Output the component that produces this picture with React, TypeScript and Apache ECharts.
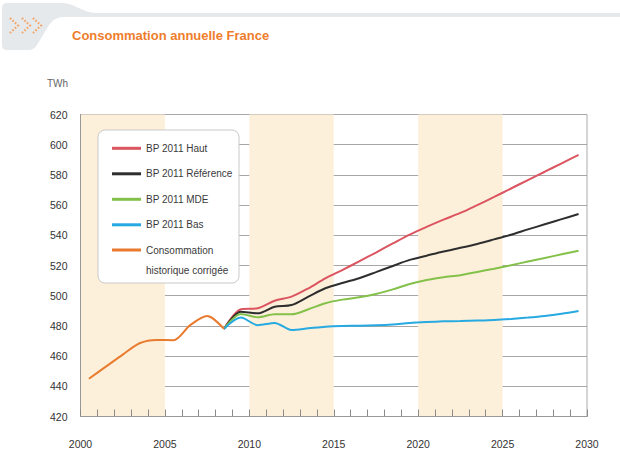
import React, { useEffect, useRef } from "react";
import * as echarts from "echarts";

const histYears = [2000, 2001, 2002, 2003, 2004, 2005, 2006, 2007, 2008];
const histValues = [445, 453, 461, 468.5, 470.7, 470.5, 480.5, 486.5, 478];

const projYears = [
  2008, 2009, 2010, 2011, 2012, 2013, 2014, 2015, 2016, 2017, 2018,
  2019, 2020, 2021, 2022, 2023, 2024, 2025, 2026, 2027, 2028, 2029,
];
const haut = [
  478, 491, 491.7, 496.7, 499.4, 504.9, 511.5, 517, 522.7, 528.6, 534.6,
  540.5, 545.6, 550.4, 554.8, 560, 565.4, 571, 576.6, 582.1, 587.7, 593.2,
];
const reference = [
  478, 489.4, 488.3, 492.7, 493.8, 499.4, 504.9, 508.4, 511.6, 515.6, 519.7,
  523.7, 526.5, 529.3, 531.7, 534.3, 537.3, 540.4, 543.9, 547.3, 550.7, 554.1,
];
const mde = [
  478, 487.9, 485.7, 487.7, 487.7, 491, 495, 497.4, 498.9, 501.1, 504.2,
  507.8, 510.4, 512.2, 513.6, 515.7, 517.9, 520.2, 522.6, 525, 527.4, 529.8,
];
const bas = [
  478, 485.5, 480.5, 482, 477.3, 478.4, 479.5, 480, 480.1, 480.4, 481,
  482, 482.6, 483, 483.2, 483.5, 483.9, 484.6, 485.5, 486.6, 488.1, 489.9,
];

const seriesNames = [
  "BP 2011 Haut",
  "BP 2011 Référence",
  "BP 2011 MDE",
  "BP 2011 Bas",
  "Consommation historique corrigée",
];
const seriesColors = ["#db5460", "#2e2e2e", "#84c14a", "#27a9e1", "#e97b2f"];

const FONT = "'Liberation Sans Narrow', 'Liberation Sans', Arial, sans-serif";

const tabPath =
  "M2 8 Q2 3 7 3 L62 3 C75 3 82 13 97 13 L620 13 L620 17 L64 17 C54 17 51 22 46 30 L37 45 Q34 50 29 50 L7 50 Q2 50 2 45 Z";
echarts.graphic.registerShape("tab", echarts.graphic.extendPath(tabPath, {}));

// data placed at mid-year
const pairs = (years: number[], vals: number[]) =>
  years.map((y, i) => [y + 0.5, vals[i]]);

export default function App() {
  const ref = useRef<HTMLDivElement>(null);
  useEffect(() => {
    document.body.style.margin = "0";
    const chart = echarts.init(ref.current!, null, { renderer: "svg" });
    const projData = [haut, reference, mde, bas];
    const series: any[] = projData.map((vals, i) => ({
      name: seriesNames[i],
      type: "line",
      data: pairs(projYears, vals),
      smooth: 0.3,
      showSymbol: false,
      lineStyle: { width: 2, color: seriesColors[i] },
      itemStyle: { color: seriesColors[i] },
    }));
    series.push({
      name: seriesNames[4],
      type: "line",
      data: pairs(histYears, histValues),
      smooth: 0.3,
      showSymbol: false,
      lineStyle: { width: 2, color: seriesColors[4] },
      itemStyle: { color: seriesColors[4] },
    });

    const chevrons = [10, 22, 33].map((x) => ({
      type: "polyline",
      z: 2,
      shape: { points: [[x, 18], [x + 8, 25.5], [x, 33]] },
      style: { stroke: "#f3a466", lineWidth: 2.2, lineDash: [1.6, 1.8], fill: null },
    }));

    const legendText = { fontFamily: FONT, fontSize: 10, color: "#3a3a3a" };

    chart.setOption({
      animation: false,
      backgroundColor: "#ffffff",
      grid: {
        left: 80.5,
        top: 114.5,
        width: 506.5,
        height: 302,
        show: true,
        borderColor: "#aaaaaa",
        borderWidth: 1,
      },
      xAxis: {
        type: "value",
        min: 2000,
        max: 2030,
        interval: 5,
        axisLine: { show: true, lineStyle: { color: "#999999", width: 1 } },
        axisTick: { show: true, inside: true, length: 7, lineStyle: { color: "#8a8a8a" } },
        minorTick: { show: true, splitNumber: 5, length: 7, lineStyle: { color: "#8a8a8a" } },
        splitLine: { show: false },
        splitArea: {
          show: true,
          areaStyle: { color: ["#fdf0db", "rgba(255,255,255,0)"] },
        },
        axisLabel: {
          margin: 22,
          color: "#333333",
          fontSize: 10.5,
          fontFamily: FONT,
          formatter: (v: number) => String(v),
        },
      },
      yAxis: {
        type: "value",
        min: 420,
        max: 620,
        interval: 20,
        axisLine: { show: true, lineStyle: { color: "#999999" } },
        axisTick: { show: false },
        splitLine: { show: true, lineStyle: { color: "#aba6a6", width: 1.2 } },
        axisLabel: {
          margin: 13,
          color: "#333333",
          fontSize: 10.5,
          fontFamily: FONT,
        },
      },
      legend: [
        {
          data: seriesNames.slice(0, 4),
          orient: "vertical",
          left: 112,
          top: 141.3,
          padding: 0,
          itemGap: 11.5,
          itemWidth: 29,
          itemHeight: 3,
          icon: "rect",
          z: 10,
          textStyle: { ...legendText, lineHeight: 14 },
        },
        {
          data: [seriesNames[4]],
          orient: "vertical",
          left: 112,
          top: 240,
          padding: 0,
          itemWidth: 29,
          itemHeight: 23,
          icon: "path://M0,0H29V3H0Z M0,22.99H0.01V23H0Z",
          z: 10,
          formatter: () => "Consommation\nhistorique corrigée",
          textStyle: { ...legendText, lineHeight: 20 },
        },
      ],
      graphic: [
        {
          type: "tab",
          x: 0,
          y: 0,
          z: 1,
          style: { fill: "#e6e9eb" },
        },
        ...chevrons,
        {
          type: "text",
          left: 72,
          top: 29,
          style: {
            text: "Consommation annuelle France",
            fill: "#ef7d2b",
            font: "bold 13px " + FONT,
          },
        },
        {
          type: "text",
          left: 47,
          top: 78,
          style: {
            text: "TWh",
            fill: "#666666",
            font: "10px " + FONT,
          },
        },
        {
          type: "rect",
          z: 5,
          shape: { x: 98, y: 130, width: 141, height: 153, r: 7 },
          style: { fill: "#ffffff", stroke: "#c9c9c9", lineWidth: 1 },
        },
      ],
      series,
    });
    return () => chart.dispose();
  }, []);
  return <div ref={ref} style={{ width: 620, height: 465 }} />;
}
